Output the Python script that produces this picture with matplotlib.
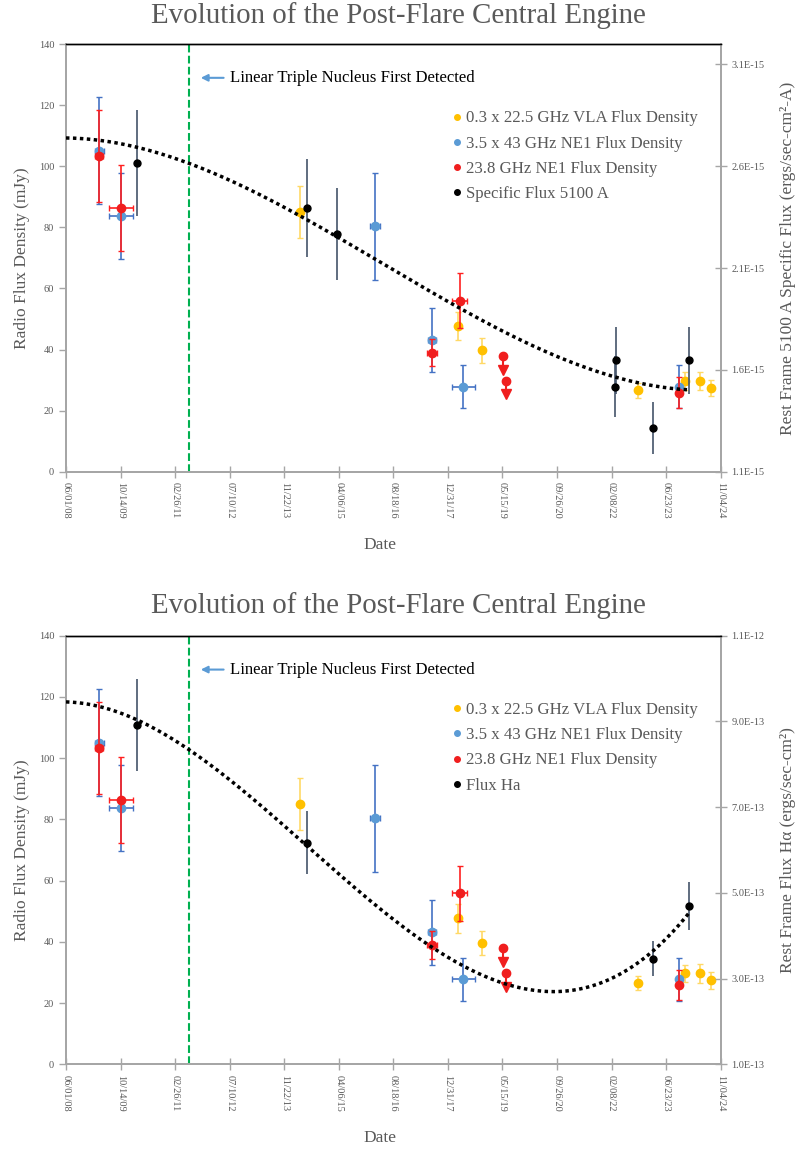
import numpy as np
import pandas as pd
import matplotlib
matplotlib.use('Agg')
import matplotlib.pyplot as plt
import matplotlib.dates as mdates
from matplotlib.lines import Line2D

plt.rcParams['font.family'] = ['Liberation Serif', 'DejaVu Serif']

# radio data (same in both panels)
vla_dates = ['2014-04-15', '2018-03-31', '2018-11-11', '2022-10-11', '2023-12-10', '2024-04-28', '2024-08-07']
vla_flux = [85.1, 47.7, 39.7, 26.6, 29.7, 29.7, 27.4]
vla_err = [8.5, 4.7, 4.0, 2.4, 2.9, 3.0, 2.7]

ne43_dates = ['2009-04-02', '2009-10-15', '2016-03-03', '2017-08-04', '2018-05-21', '2023-10-16']
ne43_flux = [105.1, 83.7, 80.4, 43.1, 27.8, 27.8]
ne43_err = [17.5, 14.0, 17.5, 10.5, 7.0, 7.0]
ne43_xerr = [43, 110, 46, 37, 103, 0]

ne23_dates = ['2009-04-02', '2009-10-15', '2017-08-10', '2018-04-18', '2023-10-16']
ne23_flux = [103.3, 86.4, 39.0, 55.9, 25.9]
ne23_err = [15.0, 14.0, 4.5, 9.0, 5.0]
ne23_xerr = [35, 110, 46, 67, 0]

ne23_lim_dates = ['2019-05-23', '2019-06-19']
ne23_lim_flux = [37.9, 29.8]

# optical data
f5100_dates = ['2010-03-14', '2014-06-21', '2015-03-23', '2022-03-14', '2022-03-20', '2023-02-19', '2024-01-21']
f5100 = [2.616e-15, 2.396e-15, 2.266e-15, 1.517e-15, 1.647e-15, 1.314e-15, 1.647e-15]
f5100_err = [0.26e-15, 0.24e-15, 0.225e-15, 0.15e-15, 0.163e-15, 0.129e-15, 0.163e-15]

ha_dates = ['2010-03-14', '2014-06-21', '2023-02-19', '2024-01-21']
ha = [8.92e-13, 6.17e-13, 3.46e-13, 4.70e-13]
ha_err = [1.07e-13, 0.74e-13, 0.41e-13, 0.56e-13]

# polynomial trendlines
trend5100_dates = ['2008-06-01', '2009-04-02', '2010-03-14', '2011-06-30', '2014-04-15', '2015-03-23',
                   '2016-03-03', '2017-07-20', '2018-04-18', '2019-05-15', '2020-09-26', '2022-02-08',
                   '2023-02-19', '2024-01-21']
trend5100 = [2.739e-15, 2.729e-15, 2.693e-15, 2.611e-15, 2.358e-15, 2.252e-15, 2.146e-15, 1.982e-15,
             1.909e-15, 1.794e-15, 1.664e-15, 1.563e-15, 1.525e-15, 1.504e-15]

trendha_dates = ['2008-06-01', '2009-04-02', '2010-03-14', '2011-06-30', '2014-06-21', '2015-04-06',
                 '2016-08-18', '2017-12-31', '2019-05-15', '2020-09-26', '2022-02-08', '2023-02-19',
                 '2024-01-21']
trendha = [9.47e-13, 9.35e-13, 9.02e-13, 8.34e-13, 6.10e-13, 5.40e-13, 4.39e-13, 3.57e-13, 2.91e-13,
           2.68e-13, 2.95e-13, 3.61e-13, 4.59e-13]

detect_date = '2011-06-30'
start_date = '2008-06-01'

GRAY = '#595959'
AXGRAY = '#A6A6A6'
YEL = '#FFC000'
BLUE = '#5B9BD5'
RED = '#F01E1E'


def d(lst):
    return mdates.date2num(pd.to_datetime(lst))


fig = plt.figure(figsize=(7.97, 11.5), dpi=100)

panels = [
    dict(rect=[0.0828, 0.5898, 0.8215, 0.3719], dates=f5100_dates, vals=f5100, errs=f5100_err,
         tdates=trend5100_dates, tvals=trend5100,
         ylim=(1.1e-15, 3.2e-15), yticks=np.arange(1.1e-15, 3.15e-15, 0.5e-15),
         label='Rest Frame 5100 A Specific Flux (ergs/sec-cm²-A)', name='Specific Flux 5100 A',
         title_y=0.9862),
    dict(rect=[0.0828, 0.0745, 0.8215, 0.3727], dates=ha_dates, vals=ha, errs=ha_err,
         tdates=trendha_dates, tvals=trendha,
         ylim=(1.0e-13, 1.1e-12), yticks=np.arange(1.0e-13, 1.15e-12, 2e-13),
         label='Rest Frame Flux Hα (ergs/sec-cm²)', name='Flux Ha',
         title_y=0.4735),
]

x0 = d([start_date])[0]
xticks = d(pd.date_range(start_date, periods=13, freq='500D'))

for p in panels:
    ax = fig.add_axes(p['rect'])
    ax2 = ax.twinx()

    # radio series
    ax.errorbar(d(vla_dates), vla_flux, yerr=vla_err, fmt='o', color=YEL, ms=6,
                ecolor='#FFD966', elinewidth=1.2, capsize=2.5, zorder=3)
    ax.errorbar(d(ne43_dates), ne43_flux, yerr=ne43_err, xerr=ne43_xerr, fmt='o', color=BLUE, ms=6,
                ecolor='#4472C4', elinewidth=1.2, capsize=2.5, zorder=3)
    ax.errorbar(d(ne23_dates), ne23_flux, yerr=ne23_err, xerr=ne23_xerr, fmt='o', color=RED, ms=6,
                ecolor='#FF2020', elinewidth=1.2, capsize=2.5, zorder=4)
    lim_x = d(ne23_lim_dates)
    lim_y = np.array(ne23_lim_flux)
    ax.vlines(lim_x, lim_y - 4.5, lim_y, color=RED, lw=1.5, zorder=4)
    ax.plot(lim_x, lim_y, 'o', color=RED, ms=6, zorder=4)
    ax.plot(lim_x, lim_y - 4.5, 'v', color=RED, ms=7, zorder=4)

    ax.axvline(d([detect_date])[0], color='#00B050', ls='--', lw=1.5, zorder=2)

    # optical series on secondary axis
    bx = d(p['dates'])
    ax2.errorbar(bx, p['vals'], yerr=p['errs'], fmt='o', color='black', ms=5,
                 ecolor='#44546A', elinewidth=1.2, capsize=0, zorder=5)
    tx_read = d(p['tdates']) - x0
    coef = np.polyfit(tx_read, p['tvals'], 3)
    tx = np.linspace(tx_read.min(), tx_read.max(), 300)
    ax2.plot(tx + x0, np.polyval(coef, tx), ls=(0, (1, 1)), color='black', lw=2.5, zorder=5)

    ax.set_xlim(xticks[0], xticks[-1])
    ax.set_ylim(0, 140)
    ax.set_yticks(range(0, 141, 20))
    ax.set_xticks(xticks)
    ax.set_xticklabels([mdates.num2date(t).strftime('%m/%d/%y') for t in xticks], rotation=-90)
    ax2.set_ylim(*p['ylim'])
    ax2.set_yticks(p['yticks'])
    ax2.set_yticklabels(['{:.1E}'.format(v) for v in p['yticks']])

    for a in (ax, ax2):
        for s in a.spines.values():
            s.set_color(AXGRAY)
            s.set_linewidth(1.3)
        a.spines['top'].set_color('black')
        a.spines['top'].set_linewidth(1.0)
    ax.tick_params(axis='y', direction='out', length=5, color=AXGRAY, labelcolor=GRAY, labelsize=7.5, width=1)
    ax.tick_params(axis='x', direction='inout', length=8, color=AXGRAY, labelcolor=GRAY, labelsize=7.5, width=1)
    ax2.tick_params(axis='y', direction='inout', length=8, color=AXGRAY, labelcolor=GRAY, labelsize=7.5, width=1)

    ax.set_ylabel('Radio Flux Density (mJy)', fontsize=12.5, color=GRAY)
    ax.yaxis.set_label_coords(-0.055, 0.5)
    ax.set_xlabel('Date', fontsize=12.5, color=GRAY)
    ax.xaxis.set_label_coords(0.48, -0.153)
    ax2.set_ylabel(p['label'], fontsize=12.5, color=GRAY, rotation=90)
    ax2.yaxis.set_label_coords(1.091, 0.5)

    ax.annotate('', xy=(0.2016, 0.921), xytext=(0.245, 0.921), xycoords='axes fraction',
                arrowprops=dict(arrowstyle='-|>', color=BLUE, lw=1.5, mutation_scale=10))
    ax.text(0.2505, 0.921, 'Linear Triple Nucleus First Detected', transform=ax.transAxes,
            fontsize=12.1, va='center', ha='left', color='black')

    handles = [Line2D([], [], ls='', marker='o', ms=4, color=c) for c in (YEL, BLUE, RED, 'black')]
    labels = ['0.3 x 22.5 GHz VLA Flux Density', '3.5 x 43 GHz NE1 Flux Density',
              '23.8 GHz NE1 Flux Density', p['name']]
    ax.legend(handles, labels, loc='upper left', bbox_to_anchor=(0.567, 0.88), frameon=False,
              fontsize=12.1, handlelength=0.6, handletextpad=0.2, labelspacing=0.54,
              labelcolor=GRAY)

    fig.text(0.5, p['title_y'], 'Evolution of the Post-Flare Central Engine', ha='center', va='center',
             fontsize=20.8, color=GRAY)

fig.savefig('out.png', dpi=100)
